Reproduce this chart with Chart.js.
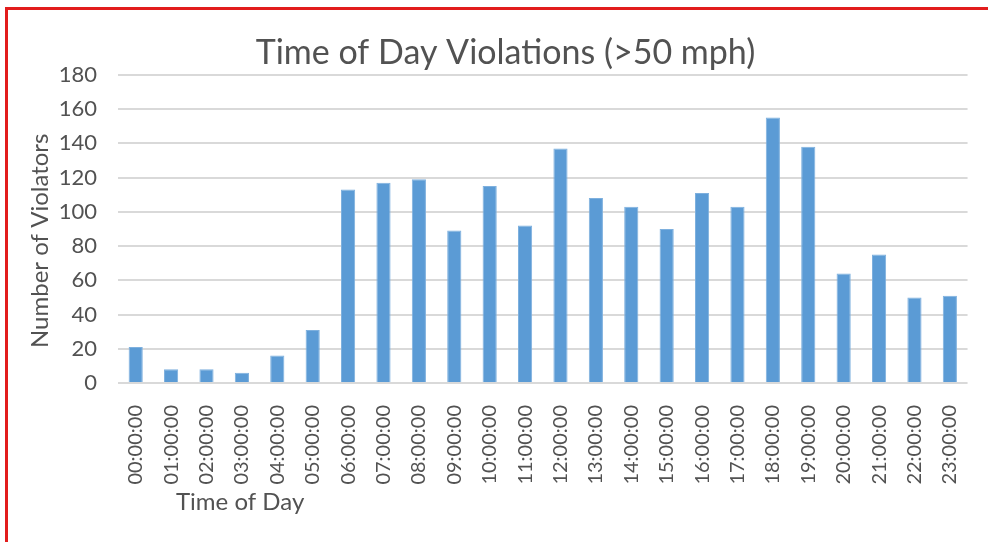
<!DOCTYPE html>
<html>
<head>
<meta charset="utf-8">
<script src="https://cdn.jsdelivr.net/npm/chart.js@4"></script>
<style>
    html, body { margin: 0; padding: 0; background: #fff; overflow: hidden; }
    #wrap { position: relative; width: 988px; height: 542px; }
    #frame {
        position: absolute; left: 5px; top: 7px; width: 2000px; height: 2000px;
        border-top: 3px solid #e21d1d; border-left: 3px solid #e21d1d;
        pointer-events: none;
    }
    canvas { position: absolute; left: 0; top: 0; }
</style>
</head>
<body>
<div id="wrap">
    <canvas id="chartHoras" width="988" height="542"></canvas>
    <div id="frame"></div>
</div>
<script>
// ===== DADOS =====
const horas = [
    "00:00:00", "01:00:00", "02:00:00", "03:00:00", "04:00:00", "05:00:00",
    "06:00:00", "07:00:00", "08:00:00", "09:00:00", "10:00:00", "11:00:00",
    "12:00:00", "13:00:00", "14:00:00", "15:00:00", "16:00:00", "17:00:00",
    "18:00:00", "19:00:00", "20:00:00", "21:00:00", "22:00:00", "23:00:00"
];
const violadores = [21, 8, 8, 6, 16, 31, 113, 117, 119, 89, 115, 92,
                    137, 108, 103, 90, 111, 103, 155, 138, 64, 75, 50, 51];

const titulo = "Time of Day Violations (>50 mph)";
const tituloX = "Time of Day";
const tituloY = "Number of Violators";

const cinza = "#525252";
const fonte = "Lato";

// titulos dos eixos desenhados a mao (posicao igual ao Excel)
const titulosEixos = {
    id: "titulosEixos",
    afterDraw(chart) {
        const ctx = chart.ctx;
        const area = chart.chartArea;
        ctx.save();
        ctx.fillStyle = cinza;
        ctx.font = "24px " + fonte;
        ctx.textBaseline = "middle";
        ctx.textAlign = "left";
        ctx.fillText(tituloX, area.left + 58, area.bottom + 119);
        ctx.translate(40, area.top + 166);
        ctx.rotate(-Math.PI / 2);
        ctx.textAlign = "center";
        ctx.fillText(tituloY, 0, 0);
        ctx.restore();
    }
};

new Chart(document.getElementById("chartHoras"), {
    type: "bar",
    data: {
        labels: horas,
        datasets: [{
            data: violadores,
            backgroundColor: "#5b9bd5",
            borderColor: "#7eb0de",
            borderWidth: 1,
            barPercentage: 0.4,
            categoryPercentage: 1
        }]
    },
    options: {
        responsive: false,
        animation: false,
        layout: { padding: { left: 30, right: 7, top: 0, bottom: 0 } },
        plugins: {
            legend: { display: false },
            tooltip: { enabled: false },
            title: {
                display: true,
                text: titulo,
                color: cinza,
                font: { family: fonte, size: 34, weight: "normal" },
                padding: { top: 33, bottom: 1 }
            }
        },
        scales: {
            x: {
                grid: { display: false },
                border: { display: false },
                afterFit(s) { s.height = 159; },
                ticks: {
                    color: cinza,
                    font: { family: fonte, size: 20 },
                    minRotation: 90,
                    maxRotation: 90,
                    autoSkip: false,
                    padding: 14
                }
            },
            y: {
                min: 0,
                max: 180,
                border: { display: false },
                grid: { color: "#d9d9d9", lineWidth: 2, drawTicks: false },
                afterFit(s) { s.width = 88; },
                ticks: {
                    stepSize: 20,
                    color: cinza,
                    font: { family: fonte, size: 22 },
                    padding: 21
                }
            }
        }
    },
    plugins: [titulosEixos]
});
</script>
</body>
</html>
